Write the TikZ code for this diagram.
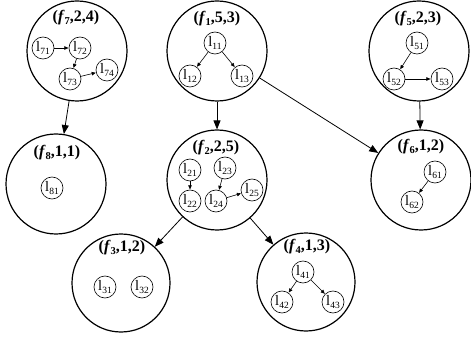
\documentclass[tikz,border=0pt]{standalone}
\usepackage{fontspec}
\setmainfont{Liberation Serif}
\usetikzlibrary{arrows.meta}
\newcommand{\lsub}[1]{l\raisebox{-0.45ex}{\fontsize{9.5}{9.5}\selectfont #1}}
\newcommand{\flab}[3]{\textbf{(\textit{f}\raisebox{-0.4ex}{\fontsize{10.5}{10.5}\selectfont\bfseries #1},#2,#3)}}
\tikzset{
  group/.style={circle, draw, line width=1.2pt, minimum size=100pt, inner sep=0pt},
  glabel/.style={font=\fontsize{16}{16}\selectfont, inner sep=0pt},
  leaf/.style={circle, draw, line width=0.6pt, minimum size=22pt, inner sep=0pt, font=\fontsize{14.5}{14.5}\selectfont},
  bigarrow/.style={draw, line width=0.8pt, -{Triangle[length=9pt,width=7pt]}},
  smallarrow/.style={draw, line width=0.6pt, -{Triangle[length=4pt,width=3.5pt]}, shorten >=0.3pt}
}
\begin{document}
\begin{tikzpicture}[x=1pt,y=-1pt]
\useasboundingbox (0,0) rectangle (471,339);
% groups
\node[group] (f7) at (77,51) {};
\node[group] (f1) at (217,51) {};
\node[group] (f5) at (419,51) {};
\node[group] (f8) at (56,184) {};
\node[group] (f2) at (217,180) {};
\node[group] (f6) at (421,180) {};
\node[group,minimum size=98pt] (f3) at (121,283) {};
\node[group,minimum size=98pt] (f4) at (306,282) {};
% labels
\node[glabel] (t7) at (76,18) {\flab{7}{2}{4}};
\node[glabel] (t1) at (217,19) {\flab{1}{5}{3}};
\node[glabel] (t5) at (418,19) {\flab{5}{2}{3}};
\node[glabel] (t8) at (57,153) {\flab{8}{1}{1}};
\node[glabel] (t2) at (216,148) {\flab{2}{2}{5}};
\node[glabel] (t6) at (421,147) {\flab{6}{1}{2}};
\node[glabel] (t3) at (122,248) {\flab{3}{1}{2}};
\node[glabel] (t4) at (307,247) {\flab{4}{1}{3}};
% leaves
\node[leaf] (l71) at (43,48) {\lsub{71}};
\node[leaf] (l72) at (80,48) {\lsub{72}};
\node[leaf] (l73) at (70,79) {\lsub{73}};
\node[leaf] (l74) at (107,70) {\lsub{74}};
\node[leaf] (l11) at (215,43) {\lsub{11}};
\node[leaf] (l12) at (190,76) {\lsub{12}};
\node[leaf] (l13) at (242,76) {\lsub{13}};
\node[leaf] (l51) at (417,43) {\lsub{51}};
\node[leaf] (l52) at (394,79) {\lsub{52}};
\node[leaf] (l53) at (442,79) {\lsub{53}};
\node[leaf] (l81) at (52,188) {\lsub{81}};
\node[leaf] (l21) at (190,170) {\lsub{21}};
\node[leaf] (l22) at (190,201) {\lsub{22}};
\node[leaf] (l23) at (225,168) {\lsub{23}};
\node[leaf] (l24) at (216,201) {\lsub{24}};
\node[leaf] (l25) at (252,190) {\lsub{25}};
\node[leaf] (l61) at (435,172) {\lsub{61}};
\node[leaf] (l62) at (412,202) {\lsub{62}};
\node[leaf] (l31) at (105,287) {\lsub{31}};
\node[leaf] (l32) at (142,287) {\lsub{32}};
\node[leaf] (l41) at (303,272) {\lsub{41}};
\node[leaf] (l42) at (282,302) {\lsub{42}};
\node[leaf] (l43) at (333,302) {\lsub{43}};
% inner arrows
\draw[smallarrow] (l71) -- (l72);
\draw[smallarrow] (l72) -- (l73);
\draw[smallarrow] (l73) -- (l74);
\draw[smallarrow] (l11) -- (l12);
\draw[smallarrow] (l11) -- (l13);
\draw[smallarrow] (l51) -- (l52);
\draw[smallarrow] (l52) -- (l53);
\draw[smallarrow] (l21) -- (l22);
\draw[smallarrow] (l23) -- (l24);
\draw[smallarrow] (l24) -- (l25);
\draw[smallarrow] (l61) -- (l62);
\draw[smallarrow] (l41) -- (l42);
\draw[smallarrow] (l41) -- (l43);
% group arrows
\draw[bigarrow] (f7) -- (f8);
\draw[bigarrow] (f1) -- (f2);
\draw[bigarrow] (f1) -- (f6);
\draw[bigarrow] (f5) -- (f6);
\draw[bigarrow] (f2) -- (f3);
\draw[bigarrow] (f2) -- (f4);
\end{tikzpicture}
\end{document}
